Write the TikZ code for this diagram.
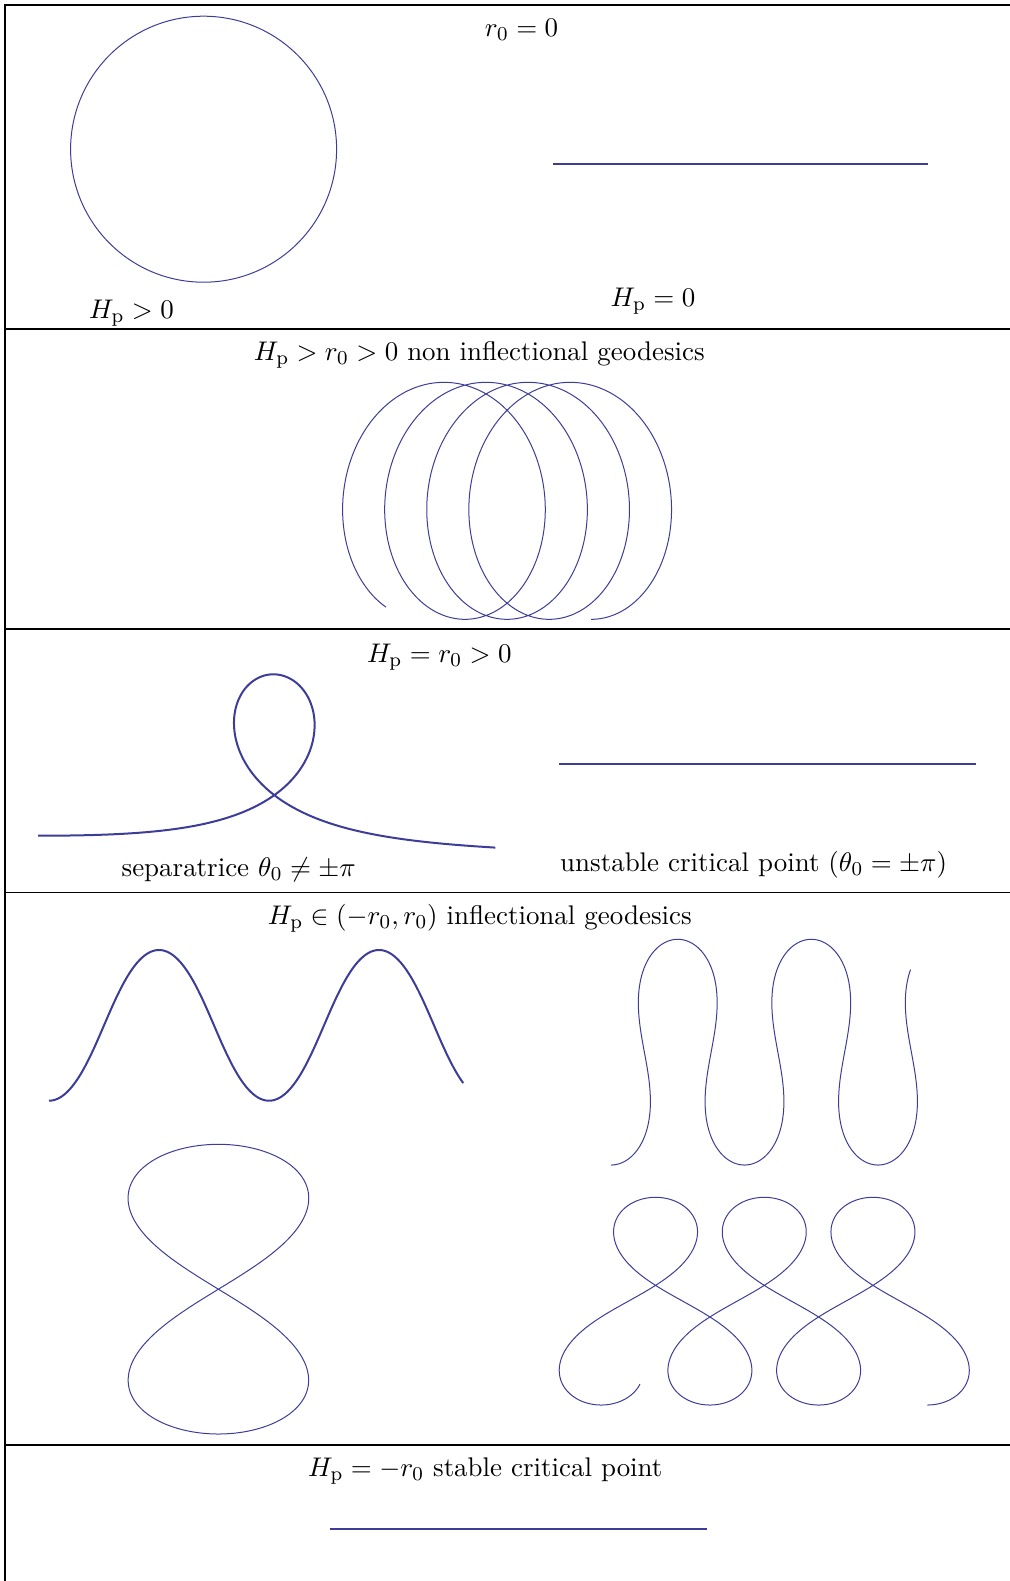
\documentclass[tikz,border=0pt]{standalone}
\definecolor{mma}{rgb}{0.24,0.24,0.6}
\newcommand\lbtext[1]{\scalebox{0.9844}{#1}}
\makeatletter
\newcommand\ElBuild[5]{%
  \pgfmathsetmacro\El@k{#2}%
  \gdef\El@S{0}\gdef\El@list{}%
  \gdef\ElMax{0}\gdef\ElMin{0}\gdef\ElHalf{0}\gdef\ElFull{0}%
  \foreach \El@i in {0,...,#4}{%
    \ifnum#1=0
      \pgfmathsetmacro\El@x{\El@S*0.0174533}%
      \pgfmathsetmacro\El@y{2*\El@k*(1-cos(\El@i))}%
    \else
      \pgfmathsetmacro\El@x{\El@k*\El@S*0.0174533}%
      \pgfmathsetmacro\El@y{(2/\El@k)*(1-sqrt(1-\El@k*\El@k*sin(\El@i)*sin(\El@i)))}%
    \fi
    \ifnum\El@i<#3\relax\else
      \edef\El@pt{(\El@x,\El@y)}%
      \expandafter\g@addto@macro\expandafter\El@list\expandafter{\El@pt}%
    \fi
    \ifnum\El@i<181
      \pgfmathsetmacro\El@t{max(\ElMax,\El@x)}\xdef\ElMax{\El@t}%
      \pgfmathsetmacro\El@t{min(\ElMin,\El@x)}\xdef\ElMin{\El@t}%
    \fi
    \ifnum\El@i=180 \xdef\ElHalf{\El@x}\fi
    \ifnum\El@i=360 \xdef\ElFull{\El@x}\fi
    \pgfmathsetmacro\El@s{sin(\El@i+0.5)}%
    \ifnum#1=0
      \pgfmathsetmacro\El@f{(1-2*\El@k*\El@k*\El@s*\El@s)/sqrt(1-\El@k*\El@k*\El@s*\El@s)}%
    \else
      \pgfmathsetmacro\El@f{cos(2*\El@i+1)/sqrt(1-\El@k*\El@k*\El@s*\El@s)}%
    \fi
    \pgfmathsetmacro\El@t{\El@S+\El@f}\xdef\El@S{\El@t}%
  }%
  \global\let#5\El@list
}
\newcommand\ElDraw[2]{\expandafter\El@draw\expandafter{#2}{#1}}
\newcommand\El@draw[2]{\draw[#2] plot coordinates {#1};}
\makeatother
% A: non-inflectional
\ElBuild{1}{0.67}{14}{720}{\ListA}
\pgfmathsetmacro\sxA{202.7/(\ElMax-\ElMin)}
\pgfmathsetmacro\syA{237/((2/0.67)*(1-sqrt(1-0.67*0.67)))}
% C: wave
\ElBuild{0}{0.3}{0}{680}{\ListC}
\pgfmathsetmacro\sxC{220/\ElFull}
\pgfmathsetmacro\syC{150.7/(4*0.3)}
% D: top right
\ElBuild{0}{0.786}{0}{857}{\ListD}
\pgfmathsetmacro\sxD{133.5/\ElFull}
\pgfmathsetmacro\syD{225.7/(4*0.786)}
% E: bottom right
\ElBuild{0}{0.9486}{0}{1117}{\ListE}
\pgfmathsetmacro\sxE{108.7/abs(\ElFull)}
\pgfmathsetmacro\syE{207.7/(4*0.9486)}
% F: figure eight
\ElBuild{0}{0.908909}{0}{360}{\ListF}
\pgfmathsetmacro\sxF{180.7/(2*\ElMax)}
\pgfmathsetmacro\syF{289.7/(4*0.908909)}
\begin{document}
\begin{tikzpicture}[x=0.4pt,y=-0.4pt,
  frame/.style={draw=black,line width=0.5pt},
  thincurve/.style={draw=mma,line width=0.4pt,line join=round},
  thickcurve/.style={draw=mma,line width=0.8pt,line join=round},
  lbl/.style={anchor=base,inner sep=0pt,font=\fontsize{10.95}{13}\selectfont}]
\useasboundingbox (0,0) rectangle (1010,1581);
% frame
\draw[frame] (5,1581) -- (5,5) -- (1010,5);
\draw[frame] (5,329) -- (1010,329);
\draw[frame] (5,629) -- (1010,629);
\draw[frame] (5,892.5) -- (1010,892.5);
\draw[frame] (5,1445) -- (1010,1445);
% panel 1
\node[lbl] (t1) at (521.6,36.7) {\lbtext{$r_0=0$}};
\draw[thincurve] (203.6,149.2) circle[radius=133];
\draw[thickcurve] (552.7,164) -- (928.2,164);
\node[lbl] (t2) at (131.5,318) {\lbtext{$H_{\mathrm p}>0$}};
\node[lbl] (t3) at (653,306.7) {\lbtext{$H_{\mathrm p}=0$}};
% panel 2
\node[lbl] (t4) at (479.3,360.5) {\lbtext{$H_{\mathrm p}>r_0>0$ non inflectional geodesics}};
\ElDraw{thincurve,shift={(422.9,619.3)},xscale=-\sxA,yscale=-\syA}{\ListA}
% panel 3
\node[lbl] (t5) at (439.3,662) {\lbtext{$H_{\mathrm p}=r_0>0$}};
\draw[thickcurve] plot[domain=-5.12:4.92,samples=400]
  ({274.3+75.7*(\x-2*tanh(\x))},{844.1-169.8/cosh(\x)+2.044*(\x-2*tanh(\x))});
\draw[thickcurve] (559.1,764.3) -- (975.8,764.3);
\node[lbl] (t6) at (238.7,876.5) {\lbtext{separatrice $\theta_0\neq\pm\pi$}};
\node[lbl] (t7) at (753.6,871.5) {\lbtext{unstable critical point ($\theta_0=\pm\pi$)}};
% panel 4
\node[lbl] (t8) at (479.8,924.5) {\lbtext{$H_{\mathrm p}\in(-r_0,r_0)$ inflectional geodesics}};
\ElDraw{thickcurve,shift={(49,1100.7)},xscale=\sxC,yscale=-\syC}{\ListC}
\ElDraw{thincurve,shift={(611,1165)},xscale=\sxD,yscale=-\syD}{\ListD}
\ElDraw{thincurve,shift={(927.3,1405)},xscale=\sxE,yscale=-\syE}{\ListE}
\ElDraw{thincurve,shift={(218.3,1434)},xscale=\sxF,yscale=-\syF}{\ListF}
% panel 5
\node[lbl] (t9) at (485.3,1476.5) {\lbtext{$H_{\mathrm p}=-r_0$ stable critical point}};
\draw[thickcurve] (329.8,1529) -- (707.2,1529);
\end{tikzpicture}
\end{document}
